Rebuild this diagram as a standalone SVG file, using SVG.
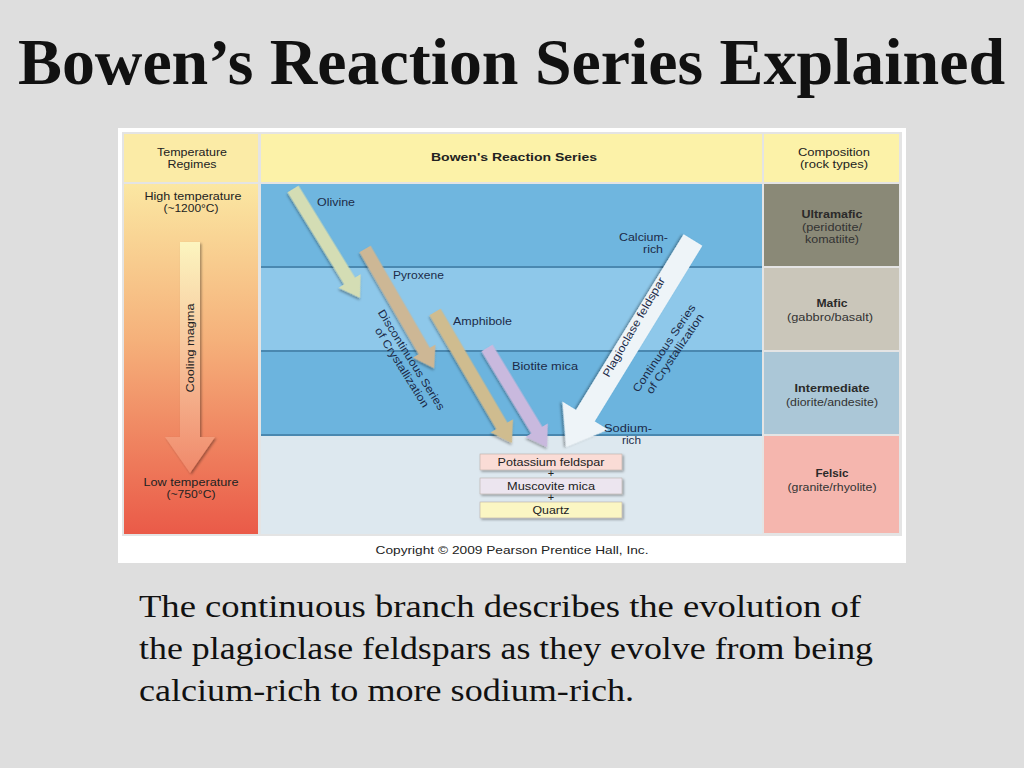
<svg xmlns="http://www.w3.org/2000/svg" width="1024" height="768" viewBox="0 0 1024 768">
  <defs>
    <linearGradient id="tempGrad" x1="0" y1="0" x2="0" y2="1">
      <stop offset="0" stop-color="#fbe7a2"/>
      <stop offset="0.45" stop-color="#f5b07a"/>
      <stop offset="1" stop-color="#ea5a48"/>
    </linearGradient>
    <linearGradient id="coolGrad" x1="0" y1="0" x2="0" y2="1">
      <stop offset="0" stop-color="#fcf5bf"/>
      <stop offset="0.5" stop-color="#f7c29a"/>
      <stop offset="1" stop-color="#f0886a"/>
    </linearGradient>
    <filter id="shadow" x="-20%" y="-20%" width="140%" height="140%">
      <feDropShadow dx="1.5" dy="1.5" stdDeviation="1.2" flood-color="#000" flood-opacity="0.35"/>
    </filter>
    <style>
      .lbl { font-family: "Liberation Sans", Arial, sans-serif; font-size: 11px; fill: #1c2b48; }
      .hdr { font-family: "Liberation Sans", Arial, sans-serif; font-size: 11px; fill: #222; text-anchor: middle; }
      .comp { font-family: "Liberation Sans", Arial, sans-serif; font-size: 11px; fill: #333; text-anchor: middle; }
      .compb { font-weight: bold; font-size: 11.5px; fill: #2a2a2a; }
      .box { stroke: #b8b0a8; stroke-width: 0.6; filter: url(#shadow); }
      .sep { stroke: #4a88b0; stroke-width: 2; }
      .arrow { stroke: none; filter: url(#shadow); }
      .serif { font-family: "Liberation Serif", "Times New Roman", serif; fill: #111; }
    </style>
  </defs>

  <rect x="0" y="0" width="1024" height="768" fill="#dedede"/>

  <text id="title" class="serif" x="18" y="84" font-size="66" font-weight="bold" textLength="987" lengthAdjust="spacingAndGlyphs">Bowen’s Reaction Series Explained</text>

  <g id="figure">
    <rect x="118" y="128" width="788" height="435" fill="#ffffff"/>
    <rect x="122" y="132" width="780" height="404" fill="#e4e4e4"/>
  </g>

  <!-- header -->
  <g id="header-temperature">
    <rect x="124" y="134" width="134" height="48" fill="#fbeba6"/>
    <text class="hdr" x="192" y="156" textLength="70" lengthAdjust="spacingAndGlyphs">Temperature</text>
    <text class="hdr" x="192" y="168" textLength="49" lengthAdjust="spacingAndGlyphs">Regimes</text>
  </g>
  <g id="header-series">
    <rect x="261" y="134" width="501" height="48" fill="#fcf2a8"/>
    <text class="hdr" x="514" y="161" font-weight="bold" font-size="12.5" textLength="166" lengthAdjust="spacingAndGlyphs">Bowen's Reaction Series</text>
  </g>
  <g id="header-composition">
    <rect x="764" y="134" width="135" height="48" fill="#fcf2a8"/>
    <text class="hdr" x="834" y="156" textLength="72" lengthAdjust="spacingAndGlyphs">Composition</text>
    <text class="hdr" x="834" y="168" textLength="68" lengthAdjust="spacingAndGlyphs">(rock types)</text>
  </g>

  <!-- temperature column -->
  <g id="temperature-column">
    <rect x="124" y="184" width="134" height="350" fill="url(#tempGrad)"/>
    <text class="hdr" x="193" y="200" fill="#333" textLength="97" lengthAdjust="spacingAndGlyphs">High temperature</text>
    <text class="hdr" x="191" y="212" fill="#333" textLength="55" lengthAdjust="spacingAndGlyphs">(~1200°C)</text>
    <text class="hdr" x="191" y="486" fill="#333" textLength="95" lengthAdjust="spacingAndGlyphs">Low temperature</text>
    <text class="hdr" x="191" y="498" fill="#333" textLength="49" lengthAdjust="spacingAndGlyphs">(~750°C)</text>
  </g>
  <g id="cooling-magma">
    <path d="M180,242 L200,242 L200,437 L215,437 L190,473 L165,437 L180,437 Z" fill="url(#coolGrad)" filter="url(#shadow)"/>
    <text class="hdr" transform="translate(194,348) rotate(-90)" fill="#333" textLength="89" lengthAdjust="spacingAndGlyphs">Cooling magma</text>
  </g>

  <!-- middle rows -->
  <g id="rows">
    <rect x="261" y="184" width="501" height="83" fill="#6fb6df"/>
    <rect x="261" y="268" width="501" height="83" fill="#8ec8ea"/>
    <rect x="261" y="352" width="501" height="83" fill="#6cb4de"/>
    <rect x="261" y="436" width="501" height="98" fill="#dde8ef"/>
    <line class="sep" x1="261" y1="267" x2="762" y2="267"/>
    <line class="sep" x1="261" y1="351" x2="762" y2="351"/>
    <line class="sep" x1="261" y1="435" x2="762" y2="435"/>
  </g>

  <!-- composition column -->
  <g id="ultramafic">
    <rect x="764" y="184" width="135" height="82" fill="#8a8977"/>
    <text class="comp compb" x="832" y="218" textLength="61" lengthAdjust="spacingAndGlyphs">Ultramafic</text>
    <text class="comp" x="832" y="231" textLength="60" lengthAdjust="spacingAndGlyphs">(peridotite/</text>
    <text class="comp" x="832" y="243" textLength="54" lengthAdjust="spacingAndGlyphs">komatiite)</text>
  </g>
  <g id="mafic">
    <rect x="764" y="268" width="135" height="82" fill="#cac6ba"/>
    <text class="comp compb" x="832" y="307" textLength="31" lengthAdjust="spacingAndGlyphs">Mafic</text>
    <text class="comp" x="830" y="321" textLength="86" lengthAdjust="spacingAndGlyphs">(gabbro/basalt)</text>
  </g>
  <g id="intermediate">
    <rect x="764" y="352" width="135" height="82" fill="#abc7d7"/>
    <text class="comp compb" x="832" y="392" textLength="75" lengthAdjust="spacingAndGlyphs">Intermediate</text>
    <text class="comp" x="832" y="406" textLength="92" lengthAdjust="spacingAndGlyphs">(diorite/andesite)</text>
  </g>
  <g id="felsic">
    <rect x="764" y="436" width="135" height="97" fill="#f5b6ae"/>
    <text class="comp compb" x="832" y="477" textLength="33" lengthAdjust="spacingAndGlyphs">Felsic</text>
    <text class="comp" x="832" y="491" textLength="89" lengthAdjust="spacingAndGlyphs">(granite/rhyolite)</text>
  </g>

  <!-- connectors -->
  <g id="connectors">
    <path class="arrow" fill="#d4ddb4" transform="translate(293,189) rotate(58.4)" d="M0,-6.5 L108,-6.5 L108,-13 L128,0 L108,13 L108,6.5 L0,6.5 Z"/>
    <path class="arrow" fill="#cdb795" transform="translate(365,249) rotate(59.9)" d="M0,-6.5 L118,-6.5 L118,-13 L138,0 L118,13 L118,6.5 L0,6.5 Z"/>
    <path class="arrow" fill="#cfbc8f" transform="translate(435,312) rotate(59.6)" d="M0,-6.5 L132,-6.5 L132,-13 L152,0 L132,13 L132,6.5 L0,6.5 Z"/>
    <path class="arrow" fill="#c9b9de" transform="translate(487,348) rotate(58.8)" d="M0,-6.5 L96,-6.5 L96,-13 L116,0 L96,13 L96,6.5 L0,6.5 Z"/>
    <path class="arrow" fill="#eef4f8" transform="translate(693,240) rotate(121.5)" d="M0,-11 L206,-11 L206,-27 L243,0 L206,27 L206,11 L0,11 Z"/>
  </g>

  <!-- series labels -->
  <g id="labels">
    <text class="lbl" x="317" y="206" textLength="38" lengthAdjust="spacingAndGlyphs">Olivine</text>
    <text class="lbl" x="393" y="279" textLength="51" lengthAdjust="spacingAndGlyphs">Pyroxene</text>
    <text class="lbl" x="453" y="325" textLength="59" lengthAdjust="spacingAndGlyphs">Amphibole</text>
    <text class="lbl" x="512" y="370" textLength="66" lengthAdjust="spacingAndGlyphs">Biotite mica</text>
    <text class="lbl" x="668" y="241" text-anchor="end" textLength="49" lengthAdjust="spacingAndGlyphs">Calcium-</text>
    <text class="lbl" x="663" y="253" text-anchor="end" textLength="20" lengthAdjust="spacingAndGlyphs">rich</text>
    <text class="lbl" x="604" y="432" textLength="48" lengthAdjust="spacingAndGlyphs">Sodium-</text>
    <text class="lbl" x="622" y="444" textLength="19" lengthAdjust="spacingAndGlyphs">rich</text>
    <text class="lbl" text-anchor="middle" transform="translate(409,363) rotate(58)">
      <tspan x="0" y="0" textLength="116" lengthAdjust="spacingAndGlyphs">Discontinuous Series</tspan>
      <tspan x="0" y="12" textLength="92" lengthAdjust="spacingAndGlyphs">of Crystallization</tspan>
    </text>
    <text class="lbl" text-anchor="middle" transform="translate(637,329) rotate(-60)" fill="#2a3040" textLength="113" lengthAdjust="spacingAndGlyphs">Plagioclase feldspar</text>
    <text class="lbl" text-anchor="middle" transform="translate(668,349) rotate(-56)">
      <tspan x="0" y="0" textLength="103" lengthAdjust="spacingAndGlyphs">Continuous Series</tspan>
      <tspan x="0" y="12" textLength="94" lengthAdjust="spacingAndGlyphs">of Crystallization</tspan>
    </text>
  </g>

  <!-- end products -->
  <g id="potassium-feldspar">
    <rect class="box" x="480" y="454" width="142" height="16" fill="#fadcd6"/>
    <text class="hdr" x="551" y="466" textLength="107" lengthAdjust="spacingAndGlyphs">Potassium feldspar</text>
  </g>
  <text class="hdr" x="551" y="477" font-size="9">+</text>
  <g id="muscovite-mica">
    <rect class="box" x="480" y="478" width="142" height="16" fill="#ece5ef"/>
    <text class="hdr" x="551" y="490" textLength="88" lengthAdjust="spacingAndGlyphs">Muscovite mica</text>
  </g>
  <text class="hdr" x="551" y="501" font-size="9">+</text>
  <g id="quartz">
    <rect class="box" x="480" y="502" width="142" height="16" fill="#fbf6c3"/>
    <text class="hdr" x="551" y="514" textLength="37" lengthAdjust="spacingAndGlyphs">Quartz</text>
  </g>

  <text id="copyright" class="hdr" x="512" y="554" font-size="12" textLength="273" lengthAdjust="spacingAndGlyphs">Copyright © 2009 Pearson Prentice Hall, Inc.</text>

  <g id="body-text" class="serif" font-size="32">
    <text x="139" y="617" textLength="722" lengthAdjust="spacingAndGlyphs">The continuous branch describes the evolution of</text>
    <text x="139" y="659" textLength="734" lengthAdjust="spacingAndGlyphs">the plagioclase feldspars as they evolve from being</text>
    <text x="139" y="701" textLength="495" lengthAdjust="spacingAndGlyphs">calcium-rich to more sodium-rich.</text>
  </g>
</svg>
